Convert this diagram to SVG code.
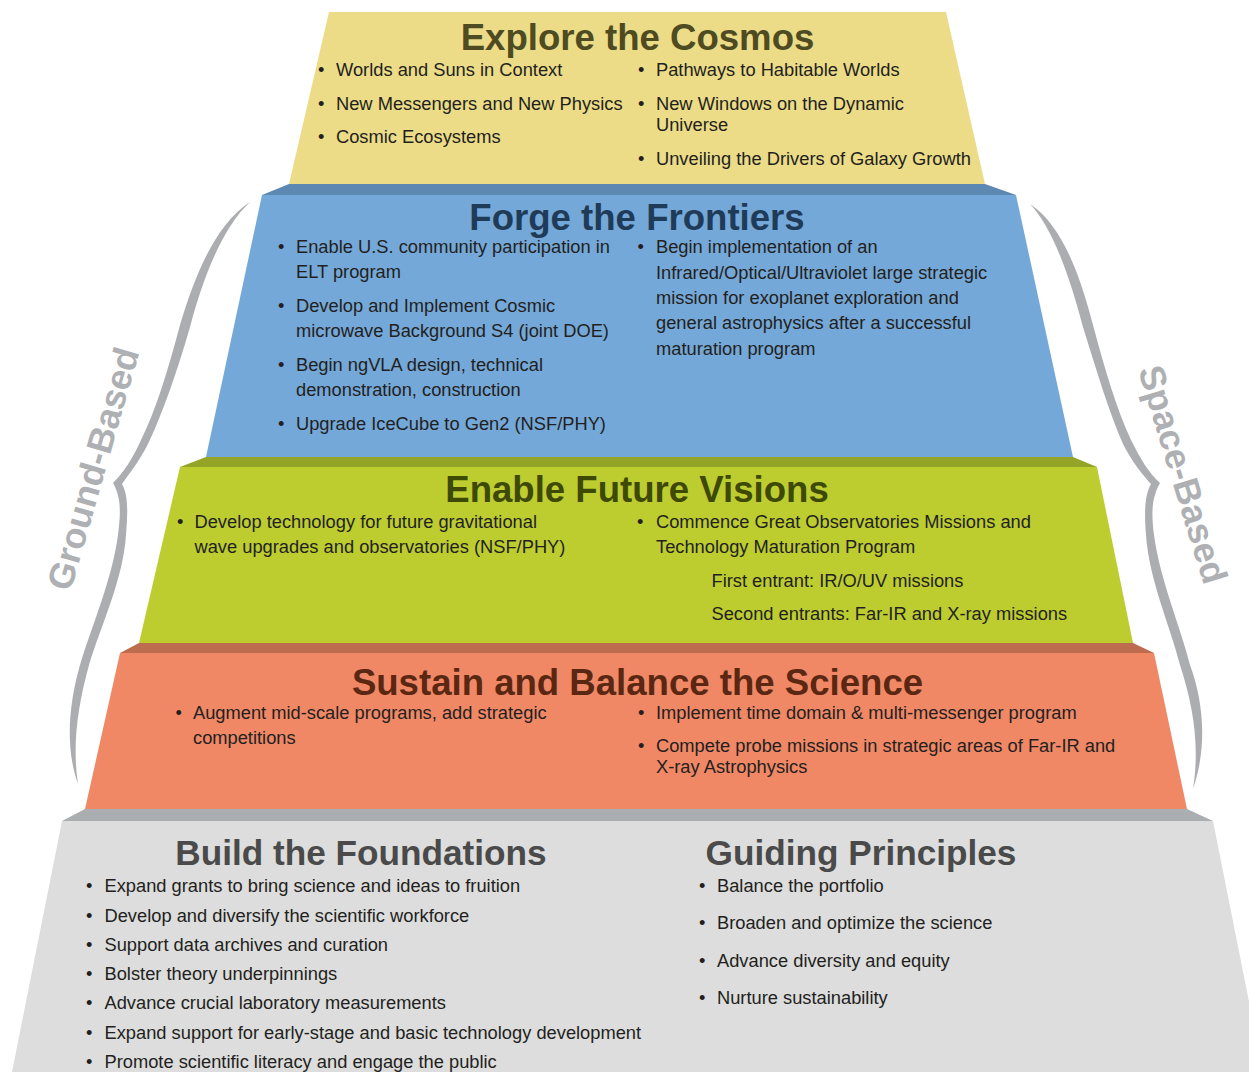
<svg xmlns="http://www.w3.org/2000/svg" width="1249" height="1072" viewBox="0 0 1249 1072">
<style>
.ttl{font-family:"Liberation Sans",Arial,Helvetica,sans-serif;font-weight:bold;font-size:36.6px;text-anchor:middle}
.ttl2{font-family:"Liberation Sans",Arial,Helvetica,sans-serif;font-weight:bold;font-size:35.2px;text-anchor:middle;fill:#4a4a4a}
.t{font-family:"Liberation Sans",Arial,Helvetica,sans-serif;font-size:18.3px;fill:#231f20}
.side{font-family:"Liberation Sans",Arial,Helvetica,sans-serif;font-weight:bold;font-size:36px;text-anchor:middle;fill:#aeb0b3}
.brace{fill:#abadb0}
</style>
<rect width="1249" height="1072" fill="#ffffff"/>

<g id="explore">
<polygon points="329,12 946,12 985,184 289,184" fill="#ecdc87"/>
<text class="ttl" x="637.5" y="50" fill="#4e4a22">Explore the Cosmos</text>
<text class="t" x="318" y="76">•</text><text class="t" x="336" y="76">Worlds and Suns in Context</text>
<text class="t" x="318" y="110">•</text><text class="t" x="336" y="110">New Messengers and New Physics</text>
<text class="t" x="318" y="143">•</text><text class="t" x="336" y="143">Cosmic Ecosystems</text>
<text class="t" x="638" y="76">•</text><text class="t" x="656" y="76">Pathways to Habitable Worlds</text>
<text class="t" x="638" y="110">•</text><text class="t" x="656" y="110">New Windows on the Dynamic</text>
<text class="t" x="656" y="131">Universe</text>
<text class="t" x="638" y="165">•</text><text class="t" x="656" y="165">Unveiling the Drivers of Galaxy Growth</text>
</g>

<g id="forge">
<polygon points="289,184 985,184 1016,195 262,195" fill="#5d88b2"/>
<polygon points="262,195 1016,195 1073,457 206,457" fill="#74a8d8"/>
<text class="ttl" x="637" y="230" fill="#1f3b58">Forge the Frontiers</text>
<text class="t" x="278" y="253">•</text><text class="t" x="296" y="253">Enable U.S. community participation in</text>
<text class="t" x="296" y="278">ELT program</text>
<text class="t" x="278" y="312">•</text><text class="t" x="296" y="312">Develop and Implement Cosmic</text>
<text class="t" x="296" y="337">microwave Background S4 (joint DOE)</text>
<text class="t" x="278" y="371">•</text><text class="t" x="296" y="371">Begin ngVLA design, technical</text>
<text class="t" x="296" y="396">demonstration, construction</text>
<text class="t" x="278" y="430">•</text><text class="t" x="296" y="430">Upgrade IceCube to Gen2 (NSF/PHY)</text>
<text class="t" x="637.5" y="253">•</text><text class="t" x="656" y="253">Begin implementation of an</text>
<text class="t" x="656" y="279">Infrared/Optical/Ultraviolet large strategic</text>
<text class="t" x="656" y="304">mission for exoplanet exploration and</text>
<text class="t" x="656" y="329">general astrophysics after a successful</text>
<text class="t" x="656" y="355">maturation program</text>
</g>

<g id="enable">
<polygon points="206,457 1073,457 1097,467 180,467" fill="#93a427"/>
<polygon points="180,467 1097,467 1133,643 139,643" fill="#bdcd30"/>
<text class="ttl" x="637" y="502" fill="#3e4906">Enable Future Visions</text>
<text class="t" x="177" y="528">•</text><text class="t" x="194.5" y="528">Develop technology for future gravitational</text>
<text class="t" x="194.5" y="553">wave upgrades and observatories (NSF/PHY)</text>
<text class="t" x="637" y="528">•</text><text class="t" x="656" y="528">Commence Great Observatories Missions and</text>
<text class="t" x="656" y="553">Technology Maturation Program</text>
<text class="t" x="711.5" y="587">First entrant: IR/O/UV missions</text>
<text class="t" x="711.5" y="620">Second entrants: Far-IR and X-ray missions</text>
</g>

<g id="sustain">
<polygon points="139,643 1133,643 1154,653 120,653" fill="#bd6c50"/>
<polygon points="120,653 1154,653 1187,809 85,809" fill="#f08866"/>
<text class="ttl" x="637.5" y="695" fill="#5a2713">Sustain and Balance the Science</text>
<text class="t" x="175.5" y="719">•</text><text class="t" x="193" y="719">Augment mid-scale programs, add strategic</text>
<text class="t" x="193" y="744">competitions</text>
<text class="t" x="638" y="719">•</text><text class="t" x="656" y="719">Implement time domain &amp; multi-messenger program</text>
<text class="t" x="638" y="752">•</text><text class="t" x="656" y="752">Compete probe missions in strategic areas of Far-IR and</text>
<text class="t" x="656" y="773">X-ray Astrophysics</text>
</g>

<g id="foundations">
<polygon points="85,809 1187,809 1213,821 62,821" fill="#abaeb0"/>
<polygon points="62,821 1213,821 1263,1072 12,1072" fill="#dcdddc"/>
<text class="ttl2" x="361" y="865">Build the Foundations</text>
<text class="t" x="86" y="892">•</text><text class="t" x="104.5" y="892">Expand grants to bring science and ideas to fruition</text>
<text class="t" x="86" y="922">•</text><text class="t" x="104.5" y="922">Develop and diversify the scientific workforce</text>
<text class="t" x="86" y="951">•</text><text class="t" x="104.5" y="951">Support data archives and curation</text>
<text class="t" x="86" y="980">•</text><text class="t" x="104.5" y="980">Bolster theory underpinnings</text>
<text class="t" x="86" y="1009">•</text><text class="t" x="104.5" y="1009">Advance crucial laboratory measurements</text>
<text class="t" x="86" y="1039">•</text><text class="t" x="104.5" y="1039">Expand support for early-stage and basic technology development</text>
<text class="t" x="86" y="1068">•</text><text class="t" x="104.5" y="1068">Promote scientific literacy and engage the public</text>
</g>

<g id="principles">
<text class="ttl2" x="861" y="865">Guiding Principles</text>
<text class="t" x="699" y="892">•</text><text class="t" x="717" y="892">Balance the portfolio</text>
<text class="t" x="699" y="929">•</text><text class="t" x="717" y="929">Broaden and optimize the science</text>
<text class="t" x="699" y="967">•</text><text class="t" x="717" y="967">Advance diversity and equity</text>
<text class="t" x="699" y="1004">•</text><text class="t" x="717" y="1004">Nurture sustainability</text>
</g>

<g id="connectors">
<g id="ground-brace">
<path class="brace" d="M250,202 C215,225 195,275 180,325 C168,370 156,410 141,440 C133,458 124,472 113,483 C121,497 121,512 118,535 C112,580 92,625 80,665 C70,700 64,745 78,784 C72,745 78,705 89,665 C101,625 123,580 126,535 C128,510 128,495 122,484 C128,475 139,462 148,444 C163,412 177,372 190,327 C203,278 222,228 250,202 Z"/>
<text class="side" transform="translate(105,472) rotate(-74)">Ground-Based</text>
</g>
<g id="space-brace">
<path class="brace" d="M1030,204 C1062,225 1080,275 1093,325 C1105,370 1117,410 1131,440 C1140,458 1148,472 1160,483 C1152,497 1151,512 1154,535 C1160,580 1180,625 1190,665 C1203,700 1208,745 1193,789 C1200,745 1193,705 1180,665 C1170,625 1149,580 1146,535 C1144,510 1145,495 1151,484 C1143,475 1132,462 1123,444 C1109,412 1097,372 1083,327 C1070,278 1053,228 1030,204 Z"/>
<text class="side" transform="translate(1171,478) rotate(73)">Space-Based</text>
</g>
</g>
</svg>
